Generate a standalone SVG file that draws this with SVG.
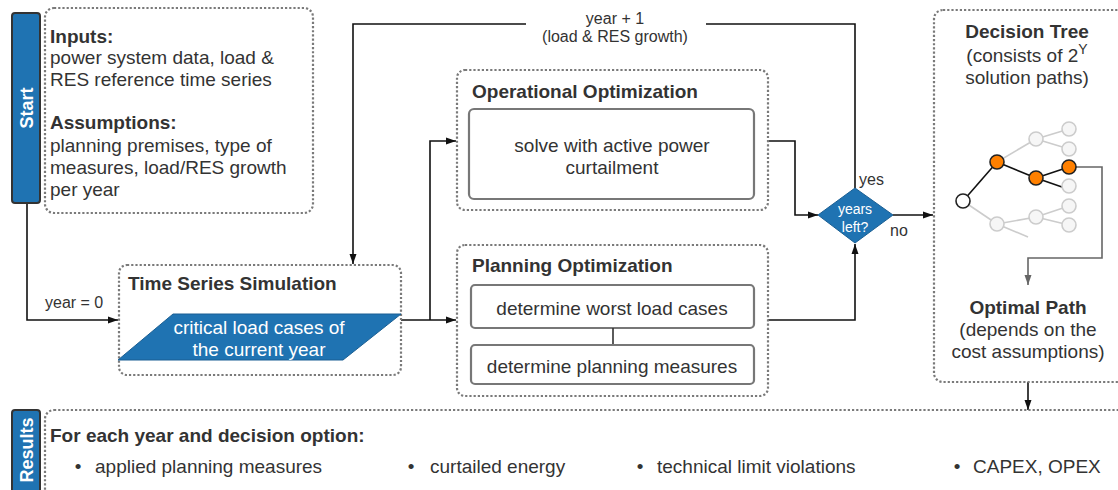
<svg xmlns="http://www.w3.org/2000/svg" width="1118" height="490" viewBox="0 0 1118 490">
<defs>
<style>
text{font-family:"Liberation Sans",Arial,Helvetica,sans-serif;fill:#333}
.b{font-weight:bold}
.t19{font-size:19px}
.t18{font-size:18px}
.t16{font-size:16px}
.w{fill:#fff}
.dot{fill:none;stroke:#7a7a7a;stroke-width:2.2;stroke-dasharray:2.2 2}
.inner{fill:#fff;stroke:#777;stroke-width:2.2}
.bar{fill:#1f73b2;stroke:#333;stroke-width:2}
.blue{fill:#1f73b2;stroke:#1b5f93;stroke-width:1}
.con{fill:none;stroke:#111;stroke-width:1.6}
.gcon{fill:none;stroke:#666;stroke-width:1.6}
.tl{stroke:#ccc;stroke-width:1.6;fill:none}
.bl{stroke:#111;stroke-width:1.6;fill:none}
.gn{fill:#f6f6f6;stroke:#ccc;stroke-width:1.6}
.on{fill:#ff8000;stroke:#222;stroke-width:1.6}
.rn{fill:#fff;stroke:#222;stroke-width:1.6}
.m{text-anchor:middle}
</style>
<marker id="ah" viewBox="0 0 10 10" refX="10" refY="5" markerWidth="10" markerHeight="10" markerUnits="userSpaceOnUse" orient="auto">
<path d="M0,1.5 L10,5 L0,8.5 z" fill="#111"/>
</marker>
<marker id="ahg" viewBox="0 0 10 10" refX="10" refY="5" markerWidth="10" markerHeight="10" markerUnits="userSpaceOnUse" orient="auto">
<path d="M0,1.5 L10,5 L0,8.5 z" fill="#666"/>
</marker>
</defs>

<g id="connectors">
<path class="con" d="M27,203 V320 H118" marker-end="url(#ah)"/>
<path class="con" d="M401,320 H456" marker-end="url(#ah)"/>
<path class="con" d="M430,320 V141 H456" marker-end="url(#ah)"/>
<path class="con" d="M855,188 V24 H353 V264" marker-end="url(#ah)"/>
<path class="con" d="M768,141 H795 V215 H818" marker-end="url(#ah)"/>
<path class="con" d="M768,320 H855 V244" marker-end="url(#ah)"/>
<path class="con" d="M893,215 H933" marker-end="url(#ah)"/>
<path class="gcon" d="M1076,167 H1102 V258 H1028 V285" marker-end="url(#ahg)"/>
<path class="con" d="M1028,382 V410" marker-end="url(#ah)"/>
<rect x="526" y="16" width="180" height="16" fill="#fff"/>
<text class="t16 m" x="615" y="24">year + 1</text>
<text class="t16 m" x="615" y="42">(load &amp; RES growth)</text>
<text class="t16" x="45" y="308">year = 0</text>
<text class="t16" x="859" y="185">yes</text>
<text class="t16" x="890" y="236">no</text>
</g>

<g id="start">
<rect class="bar" x="12" y="13" width="28" height="190" rx="3"/>
<text class="t18 b w m" transform="translate(33,108) rotate(-90)">Start</text>
</g>

<g id="inputs">
<rect class="dot" x="45" y="8" width="268" height="205" rx="9"/>
<text class="t19 b" x="50" y="43">Inputs:</text>
<text class="t19" x="50" y="64">power system data, load &amp;</text>
<text class="t19" x="50" y="86">RES reference time series</text>
<text class="t19 b" x="50" y="129">Assumptions:</text>
<text class="t19" x="50" y="152">planning premises, type of</text>
<text class="t19" x="50" y="174">measures, load/RES growth</text>
<text class="t19" x="50" y="196">per year</text>
</g>

<g id="timeseries">
<rect class="dot" x="119" y="265" width="282" height="110" rx="8"/>
<text class="t19 b" x="128" y="290">Time Series Simulation</text>
<polygon class="blue" points="173,314 401,314 343,360 118,360"/>
<text class="t19 w m" x="259" y="334">critical load cases of</text>
<text class="t19 w m" x="259" y="356">the current year</text>
</g>

<g id="operational">
<rect class="dot" x="457" y="70" width="311" height="140" rx="8"/>
<text class="t19 b" x="472" y="98">Operational Optimization</text>
<rect class="inner" x="469" y="109" width="285" height="90" rx="5"/>
<text class="t19 m" x="612" y="152">solve with active power</text>
<text class="t19 m" x="612" y="174">curtailment</text>
</g>

<g id="planning">
<rect class="dot" x="457" y="245" width="311" height="151" rx="8"/>
<text class="t19 b" x="472" y="272">Planning Optimization</text>
<rect class="inner" x="471" y="285" width="283" height="43" rx="4"/>
<text class="t19 m" x="612" y="315">determine worst load cases</text>
<line x1="613" y1="328" x2="613" y2="345" stroke="#333" stroke-width="1.6"/>
<rect class="inner" x="471" y="345" width="283" height="39" rx="4"/>
<text class="t19 m" x="612" y="373">determine planning measures</text>
</g>

<g id="decision">
<polygon class="blue" points="855,188 893,215 855,243 818,215"/>
<text class="m w" style="font-size:14px" x="855" y="214">years</text>
<text class="m w" style="font-size:14px" x="855" y="232">left?</text>
</g>

<g id="tree">
<rect class="dot" x="934" y="10" width="200" height="372" rx="9"/>
<text class="t19 b m" x="1027" y="38">Decision Tree</text>
<text class="t19 m" x="1027" y="62">(consists of 2<tspan dy="-8" style="font-size:14px">Y</tspan></text>
<text class="t19 m" x="1027" y="84">solution paths)</text>
<line class="tl" x1="997" y1="162" x2="1036" y2="139"/>
<line class="tl" x1="1036" y1="139" x2="1069" y2="129"/>
<line class="tl" x1="1036" y1="139" x2="1069" y2="149"/>
<line class="tl" x1="963" y1="201" x2="997" y2="224"/>
<line class="tl" x1="997" y1="224" x2="1036" y2="217"/>
<line class="tl" x1="997" y1="224" x2="1028" y2="237"/>
<line class="tl" x1="1036" y1="217" x2="1069" y2="206"/>
<line class="tl" x1="1036" y1="217" x2="1069" y2="225"/>
<line class="bl" x1="963" y1="201" x2="997" y2="162"/>
<line class="bl" x1="997" y1="162" x2="1036" y2="178"/>
<line class="bl" x1="1036" y1="178" x2="1069" y2="167"/>
<line class="bl" x1="1036" y1="178" x2="1062" y2="187"/>
<circle class="gn" cx="1036" cy="139" r="7"/>
<circle class="gn" cx="1069" cy="129" r="7"/>
<circle class="gn" cx="1069" cy="149" r="7"/>
<circle class="gn" cx="1069" cy="186" r="7"/>
<circle class="gn" cx="997" cy="224" r="7"/>
<circle class="gn" cx="1036" cy="217" r="7"/>
<circle class="gn" cx="1069" cy="206" r="7"/>
<circle class="gn" cx="1069" cy="225" r="7"/>
<circle class="rn" cx="963" cy="201" r="7"/>
<circle class="on" cx="997" cy="162" r="7"/>
<circle class="on" cx="1036" cy="178" r="7"/>
<circle class="on" cx="1069" cy="167" r="7"/>
<text class="t19 b m" x="1028" y="314">Optimal Path</text>
<text class="t19 m" x="1028" y="336">(depends on the</text>
<text class="t19 m" x="1028" y="358">cost assumptions)</text>
</g>

<g id="results">
<rect class="bar" x="12" y="410" width="28" height="100" rx="3"/>
<text class="t18 b w m" transform="translate(33,450) rotate(-90)">Results</text>
<rect class="dot" x="45" y="410" width="1100" height="120" rx="9"/>
<text class="t19 b" x="50" y="442">For each year and decision option:</text>
<text class="t19 m" x="78" y="473">•</text>
<text class="t19" x="95" y="473">applied planning measures</text>
<text class="t19 m" x="411" y="473">•</text>
<text class="t19" x="430" y="473">curtailed energy</text>
<text class="t19 m" x="640" y="473">•</text>
<text class="t19" x="657" y="473">technical limit violations</text>
<text class="t19 m" x="957" y="473">•</text>
<text class="t19" x="973" y="473">CAPEX, OPEX</text>
</g>
</svg>
